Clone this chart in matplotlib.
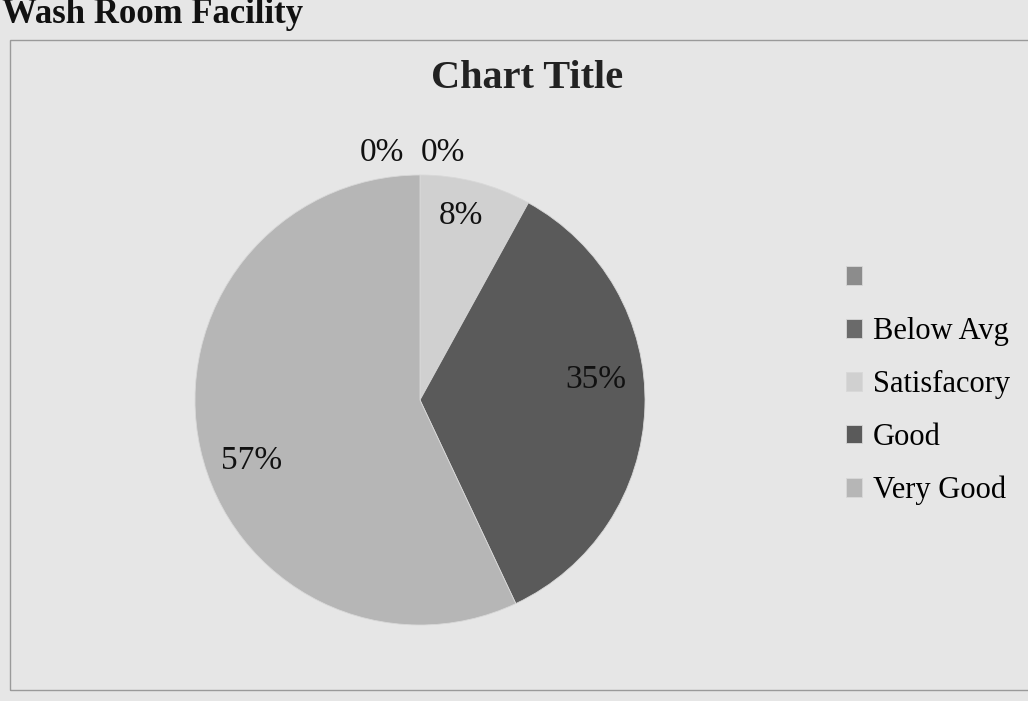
import matplotlib.pyplot as plt
from matplotlib.patches import Rectangle

plt.rcParams['font.family'] = ['Liberation Serif', 'DejaVu Serif']

categories = ['', 'Below Avg', 'Satisfacory', 'Good', 'Very Good']
values = [0, 0, 8, 35, 57]
colors = ['#8c8c8c', '#6a6a6a', '#d0d0d0', '#5a5a5a', '#b6b6b6']

W, H = 1028, 701
fig = plt.figure(figsize=(W / 100, H / 100), dpi=100, facecolor='#e6e6e6')

# Pie placed with 225 px per data unit, centre at (420, 400) px from top-left
scale = 225.0
cx, cy = 420.0, 400.0
ax = fig.add_axes([0, 0, 1, 1])
ax.set_facecolor('none')

wedges, texts, autotexts = ax.pie(
    values, colors=colors, startangle=90, counterclock=False,
    autopct='%1.0f%%', pctdistance=0.82,
    wedgeprops=dict(linewidth=0.6, edgecolor='#d8d8d8'),
    textprops=dict(fontsize=24, color='#111111'))

# Zero-valued slices: labels sit just above the pie top
autotexts[0].set_position((-0.17, 1.10))
autotexts[1].set_position((0.10, 1.10))
autotexts[2].set_position((0.18, 0.82))
autotexts[3].set_position((0.78, 0.09))
autotexts[4].set_position((-0.75, -0.27))

xmin = -cx / scale
ymin = -(H - cy) / scale
ax.set_xlim(xmin, xmin + W / scale)
ax.set_ylim(ymin, ymin + H / scale)
ax.set_aspect('auto')
ax.set_axis_off()

# Chart frame
fig.patches.append(Rectangle((10 / W, 1 - 690 / H), (W + 10) / W, (690 - 40) / H,
                             transform=fig.transFigure, fill=False,
                             edgecolor='#9a9a9a', linewidth=1.0))

fig.text(2 / W, 1 - 23 / H, 'Wash Room Facility', fontsize=25, fontweight='bold',
         ha='left', va='baseline', color='#111111')
fig.text(527 / W, 1 - 88 / H, 'Chart Title', fontsize=29, fontweight='bold',
         ha='center', va='baseline', color='#222222')

fig.legend(wedges, categories, loc='upper left', bbox_to_anchor=(818 / W, 1 - 237 / H),
           frameon=False, fontsize=22, handlelength=0.55, handleheight=0.55,
           handletextpad=0.35, labelspacing=0.78)

fig.savefig('out.png', dpi=100, facecolor=fig.get_facecolor())
